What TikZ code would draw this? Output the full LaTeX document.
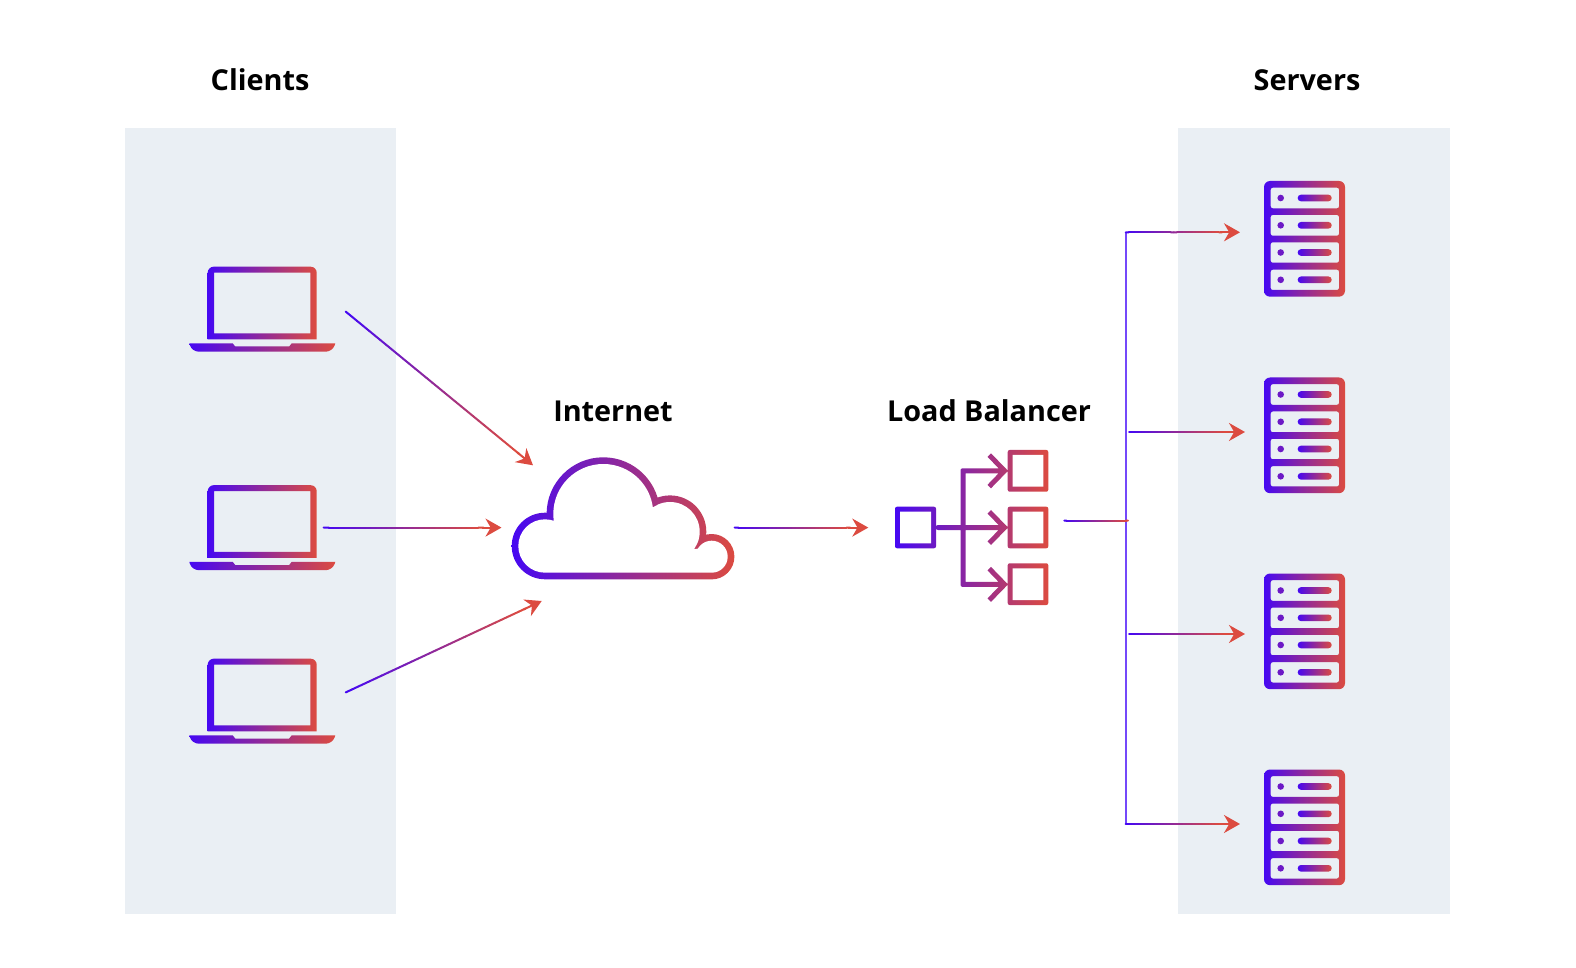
\documentclass[tikz,border=0pt]{standalone}
\usepackage{fontspec}
\setmainfont{Open Sans}
\usepackage{xcolor}
\usetikzlibrary{arrows.meta,calc}
\definecolor{gradblue}{HTML}{4608F2}
\definecolor{gradred}{HTML}{DC4B40}
\definecolor{trunkviolet}{HTML}{7448FA}
\definecolor{panelgrey}{HTML}{EAEFF4}
\tikzset{
  panelbox/.style={fill=panelgrey, draw=none},
  grouplabel/.style={font=\bfseries\fontsize{14.4}{18}\selectfont, text=black, inner sep=0pt},
  gradfill/.style={left color=gradblue, right color=gradred, draw=none},
  linkline/.style={line width=1pt, line cap=round},
  linktip/.style={-{Stealth[length=8pt,width=9pt]}, line width=1pt, draw=gradred},
  trunkline/.style={line width=1.1pt, draw=trunkviolet},
  laptop/.pic={
    \shade[gradfill, even odd rule]
      (0,72.6) [rounded corners=3pt] -- (0,0) -- (109,0) [sharp corners] -- (109,72.6) -- cycle
      (6.3,6) rectangle (102.6,66.6);
    \shade[gradfill]
      (-18.4,76.6) -- (25,76.6) -- (27.5,79.8) -- (81.5,79.8) -- (84,76.6) -- (127.6,76.6)
      [rounded corners=3.5pt] -- (125,85) -- (-16,85) [sharp corners] -- cycle;
  },
  rackserver/.pic={
    \shade[gradfill, even odd rule]
      [rounded corners=3pt] (0,0) rectangle (81,115.7)
      [rounded corners=1pt] (6.7,6.7) rectangle (75,27.3)
      (6.7,34) rectangle (75,54.7)
      (6.7,61.3) rectangle (75,81.7)
      (6.7,88.7) rectangle (75,109);
    \foreach \slotmid in {17,44.3,71.5,98.8} {
      \fill[gradblue!75!gradred] (16.7,\slotmid) circle (3.3);
      \shade[gradfill, rounded corners=1.6pt] (33.7,\slotmid-3.3) rectangle (67.7,\slotmid+3.3);
    }
  }
}
\newcommand{\gradline}[2]{
  \foreach \k [evaluate=\k as \knext using \k+1, evaluate=\k as \pct using \k*100/29] in {0,...,29} {
    \draw[linkline, draw=gradred!\pct!gradblue]
      ($(#1)!\k/30!(#2)$) -- ($(#1)!\knext/30!(#2)$);
  }
}
\newcommand{\gradlink}[2]{
  \coordinate (linkend) at ($(#2)!9pt!(#1)$);
  \gradline{#1}{linkend}
  \draw[linktip] ($(#2)!10pt!(#1)$) -- (#2);
}

\begin{document}
\begin{tikzpicture}[x=0.5pt, y=-0.5pt]
  \useasboundingbox (0,0) rectangle (1576,968);

  % panels
  \path[panelbox] (124.5,128) rectangle (396,913.5);
  \path[panelbox] (1178,128) rectangle (1450,913.5);

  % labels
  \node[grouplabel] (clientslabel) at (260,80) {Clients};
  \node[grouplabel] (serverslabel) at (1307,80) {Servers};
  \node[grouplabel] (internetlabel) at (613,411) {Internet};
  \node[grouplabel] (balancerlabel) at (989,411) {Load Balancer};

  % clients
  \pic (client1) at (207.7,266.7) {laptop};
  \pic (client2) at (207.7,485.2) {laptop};
  \pic (client3) at (207.7,658.7) {laptop};

  % servers
  \pic (server1) at (1264,181) {rackserver};
  \pic (server2) at (1264,377.5) {rackserver};
  \pic (server3) at (1264,573.5) {rackserver};
  \pic (server4) at (1264,769.5) {rackserver};

  % cloud
  \shade[gradfill]
    (545,546) circle (33.3)
    (603.3,514) circle (56.7)
    (670,531.7) circle (36.3)
    (711.7,556.7) circle (22.7)
    (545,579.3) -- (545,546) -- (600,530) -- (680,530) -- (690,550) -- (711.7,546) -- (711.7,579.3) -- cycle;
  \fill[white]
    (545,546) circle (26.7)
    (603.3,514) circle (50)
    (670,531.7) circle (29.7)
    (711.7,556.7) circle (16)
    (545,572.7) -- (545,546) -- (600,530) -- (680,530) -- (690,550) -- (711.7,546) -- (711.7,572.7) -- cycle;

  % load balancer
  \shade[gradfill]
    [rounded corners=1pt] (895,506.7) rectangle (936,548.3)
    (1007.7,450) rectangle (1048.3,491.7)
    (1007.7,506.7) rectangle (1048.3,548.3)
    (1007.7,563.3) rectangle (1048.3,605)
    (936,525) rectangle (1004,530)
    (960.5,468.3) rectangle (965.5,586.9)
    (960.5,468.3) rectangle (1004,473.3)
    (960.5,581.9) rectangle (1004,586.9)
    [sharp corners]
    (1008,470.8) -- (991,453.3) -- (987.5,456.8) -- (1001,470.8) -- (987.5,484.8) -- (991,488.3) -- cycle
    (1008,527.5) -- (991,510) -- (987.5,513.5) -- (1001,527.5) -- (987.5,541.5) -- (991,545) -- cycle
    (1008,584.4) -- (991,566.9) -- (987.5,570.4) -- (1001,584.4) -- (987.5,598.4) -- (991,601.9) -- cycle;
  \fill[white] (900,511.7) rectangle (931,543.3)
    (1012.7,455) rectangle (1043.3,486.7)
    (1012.7,511.7) rectangle (1043.3,543.3)
    (1012.7,568.3) rectangle (1043.3,600);

  % connector ends
  \coordinate (client1out) at (345.7,311.6);
  \coordinate (client2out) at (323.6,527.6);
  \coordinate (client3out) at (345.7,692.4);
  \coordinate (cloudin1) at (533,465.3);
  \coordinate (cloudin2) at (501.5,527.6);
  \coordinate (cloudin3) at (541.7,601);
  \coordinate (cloudout) at (734.6,527.6);
  \coordinate (balancerin) at (868.3,527.6);
  \coordinate (balancerout) at (1064.3,520.6);
  \coordinate (trunkmid) at (1128,520.6);
  \coordinate (trunktop) at (1125.7,232.3);
  \coordinate (trunkbottom) at (1125.7,824);
  \coordinate (branch2) at (1129,432);
  \coordinate (branch3) at (1129,634);
  \coordinate (server1in) at (1240,232.3);
  \coordinate (server2in) at (1245,432);
  \coordinate (server3in) at (1245,634);
  \coordinate (server4in) at (1240,824);

  \gradlink{client1out}{cloudin1}
  \gradlink{client2out}{cloudin2}
  \gradlink{client3out}{cloudin3}
  \gradlink{cloudout}{balancerin}
  \draw[trunkline] (trunktop) -- (trunkbottom);
  \gradlink{trunktop}{server1in}
  \gradlink{branch2}{server2in}
  \gradlink{branch3}{server3in}
  \gradlink{trunkbottom}{server4in}
  \gradline{balancerout}{trunkmid}
\end{tikzpicture}
\end{document}
